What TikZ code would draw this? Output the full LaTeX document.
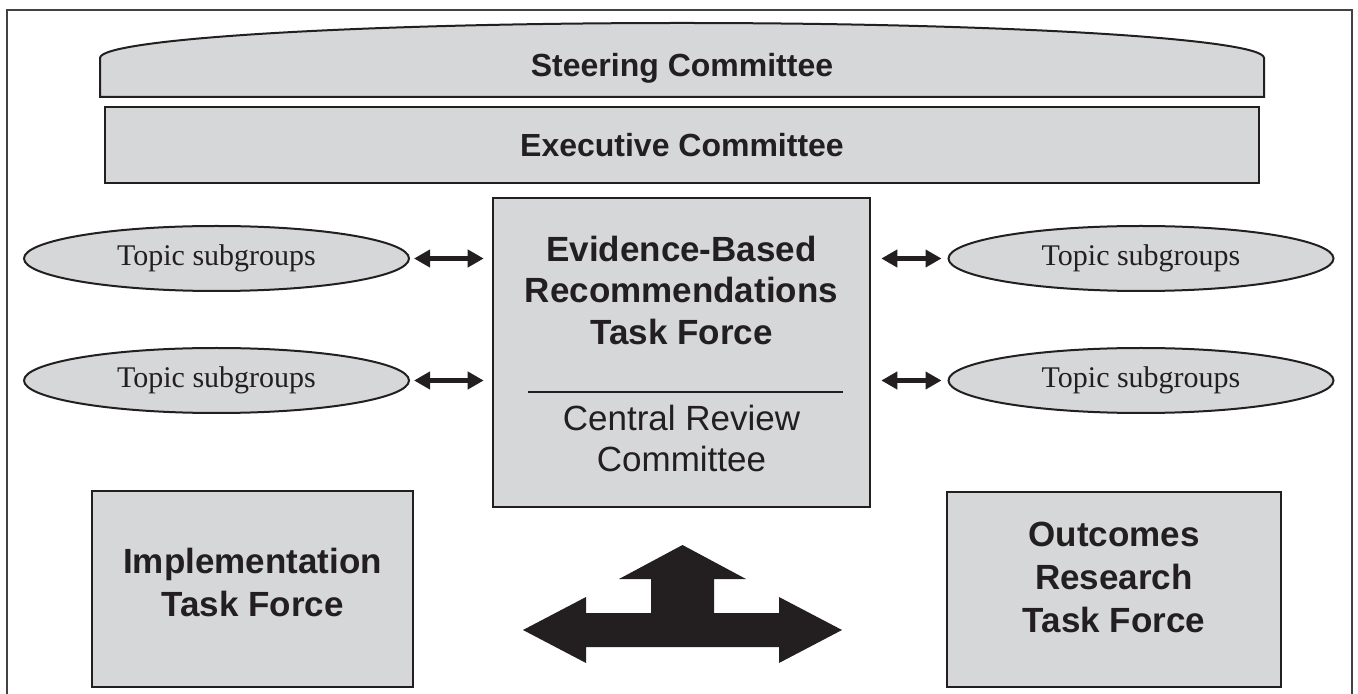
\documentclass[tikz,border=0pt]{standalone}
\usepackage{fontspec}
\setmainfont{Liberation Sans}
\newfontfamily\topicfont{Liberation Serif}
\usetikzlibrary{arrows.meta, shapes.geometric}
\definecolor{boxgray}{RGB}{214,215,217}
\definecolor{ink}{RGB}{35,31,32}

\begin{document}
\begin{tikzpicture}[x=0.5pt, y=-0.5pt,
  panel/.style={draw=ink, line width=1.3pt, fill=boxgray, rectangle, inner sep=0pt},
  topic/.style={ellipse, draw=ink, line width=1pt, fill=boxgray, inner sep=0pt,
    minimum width=192.5pt, minimum height=32.5pt, text=ink,
    font=\topicfont\fontsize{15pt}{18pt}\selectfont},
  headtext/.style={text=ink, font=\bfseries\fontsize{16pt}{19pt}\selectfont},
  bigtext/.style={text=ink, align=center, inner sep=0pt,
    font=\bfseries\fontsize{17.5pt}{21.5pt}\selectfont},
  plaintext/.style={text=ink, align=center, inner sep=0pt,
    font=\fontsize{17.5pt}{20.5pt}\selectfont},
  link/.style={{Triangle[length=8pt,width=8.5pt]}-{Triangle[length=8pt,width=8.5pt]},
    line width=2.6pt, draw=ink},
]
\useasboundingbox (0,0) rectangle (1358,694);

% outer frame
\draw[ink!85, line width=0.7pt] (7,694) -- (7,10) -- (1352,10) -- (1352,694);

% steering committee banner with arched top
\filldraw[fill=boxgray, draw=ink, line width=1pt]
  (100,97) -- (100,58)
  .. controls (100,38.7) and (360.6,23) .. (682,23)
  .. controls (1003.4,23) and (1264,38.7) .. (1264,58)
  -- (1264,97) -- cycle;
\node[headtext, anchor=base] (steer) at (682,77) {Steering Committee};

% executive committee
\node[panel, headtext, minimum width=577pt, minimum height=38pt] (exec) at (682,145)
  {Executive Committee};

% central task force box
\node[panel, minimum width=188.5pt, minimum height=154.5pt] (ebr) at (681.5,352.5) {};
\node[bigtext, font=\bfseries\fontsize{17.5pt}{20.75pt}\selectfont] (ebrtitle) at (681.5,290)
  {Evidence-Based\\Recommendations\\Task Force};
\draw[ink, line width=0.7pt] (528,392) -- (843,392);
\node[plaintext] (crc) at (681.5,438) {Central Review\\Committee};

% topic subgroups
\node[topic] (tl1) at (216.5,258.5) {Topic subgroups};
\node[topic] (tl2) at (216.5,380.5) {Topic subgroups};
\node[topic] (tr1) at (1141,258.5) {Topic subgroups};
\node[topic] (tr2) at (1141,380.5) {Topic subgroups};

\draw[link] ([xshift=2pt]tl1.east) -- ([xshift=-4pt]tl1.east -| ebr.west);
\draw[link] ([xshift=2pt]tl2.east) -- ([xshift=-4pt]tl2.east -| ebr.west);
\draw[link] ([xshift=5pt]ebr.east |- tr1.west) -- ([xshift=-3pt]tr1.west);
\draw[link] ([xshift=5pt]ebr.east |- tr2.west) -- ([xshift=-3pt]tr2.west);

% lower task forces
\node[panel, minimum width=160.5pt, minimum height=98pt] (impl) at (252.5,589) {};
\node[bigtext] (impltext) at (252.5,582) {Implementation\\Task Force};
\node[panel, minimum width=167pt, minimum height=97.5pt] (outc) at (1114,589.5) {};
\node[bigtext] (outctext) at (1114,577.5) {Outcomes\\Research\\Task Force};

% three-way block arrow
\fill[ink] (523,630) -- (586,597) -- (586,613) -- (651,613) -- (651,579) -- (619,579)
  -- (682.5,545) -- (746,579) -- (714,579) -- (714,613) -- (779,613) -- (779,597)
  -- (842,630) -- (779,663) -- (779,647) -- (586,647) -- (586,663) -- cycle;

\end{tikzpicture}
\end{document}
